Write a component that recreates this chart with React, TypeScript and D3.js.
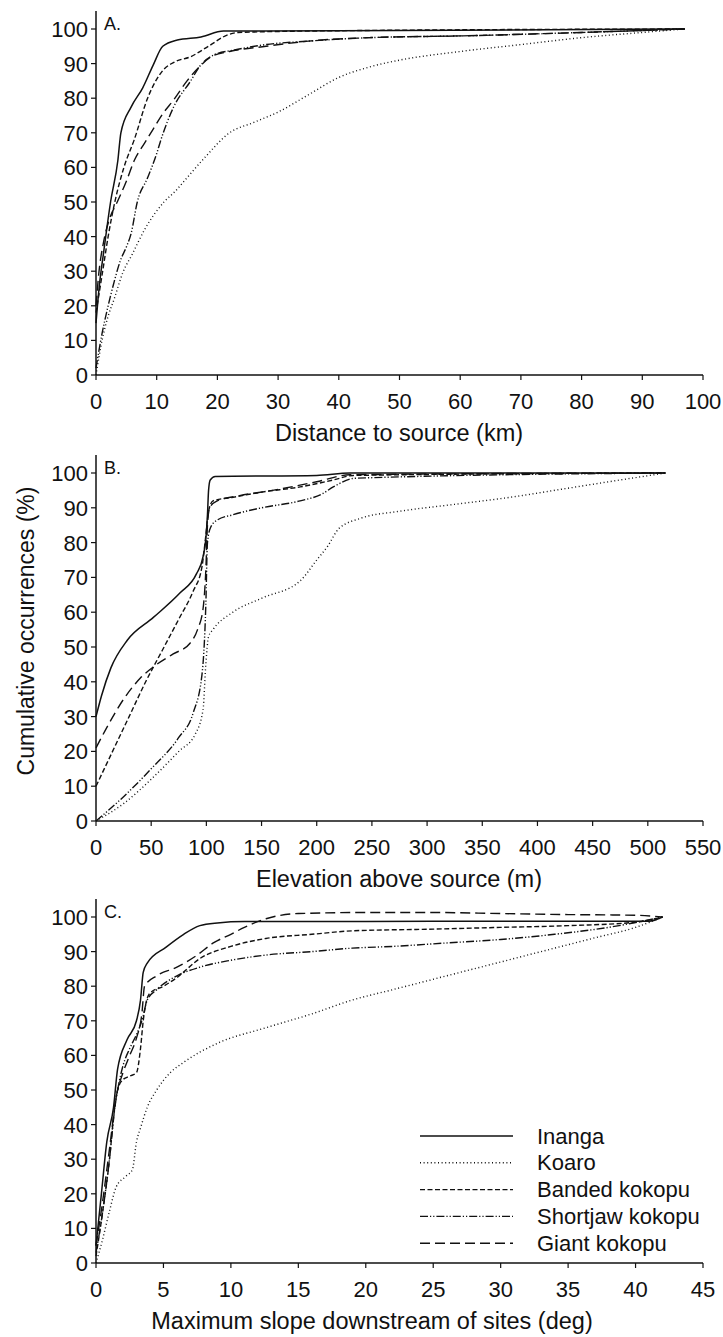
import React, { useEffect, useRef } from 'react';
import * as d3 from 'd3';

// species, in legend order
const speciesNames = ['Inanga', 'Koaro', 'Banded kokopu', 'Shortjaw kokopu', 'Giant kokopu'];

// A. distance to source (km) vs cumulative %
const distInanga = [[0, 15], [0.5, 25], [1.3, 36], [2.4, 50], [3.6, 62], [4.1, 70], [5.8, 77.5], [7.7, 83], [9.4, 89.5], [11, 95], [13.4, 96.8], [17.3, 97.7], [21, 99.4], [40, 99.5], [97, 100]];
const distKoaro = [[0, 0], [1, 10], [2, 17], [3, 22], [4.4, 29.5], [6, 35], [8, 42], [11.2, 50], [13, 53], [15, 57], [18, 63], [22, 70], [26, 73], [30, 76], [35, 81], [40, 86], [45, 89], [50, 91], [60, 93.5], [70, 95.5], [80, 97.5], [90, 99], [97, 100]];
const distBanded = [[0, 18], [1.1, 30], [2, 40], [3.1, 50], [4.6, 60], [6.3, 68], [8.5, 80], [11, 88], [13, 90.5], [15.6, 92], [18.5, 95], [21.7, 98.3], [23.4, 99], [40, 99.5], [97, 100]];
const distShortjaw = [[0, 2], [1, 12], [2, 20], [3, 27], [4, 33], [5, 37], [5.8, 41], [6.8, 50], [8.5, 57], [10, 64], [10.7, 68], [12.8, 77.5], [15.6, 85], [17, 89], [19.4, 92.5], [23, 94], [28, 95.5], [35, 96.5], [45, 97.5], [60, 98], [80, 99], [97, 100]];
const distGiant = [[0, 20], [0.5, 30], [1.2, 38], [2.2, 45], [3.5, 50], [5, 56], [6.3, 62], [8, 67], [9.4, 71], [11, 75.5], [12.8, 79.5], [15, 85], [17, 89], [19, 92], [22, 93.5], [28, 95], [35, 96.5], [45, 97.5], [60, 98], [80, 99], [97, 100]];

// B. elevation above source (m)
const elevInanga = [[0, 30], [5, 36], [13.5, 44], [28.5, 52], [52, 58.5], [76, 65.5], [91, 71], [97, 76], [99.5, 81], [101, 88], [102, 95], [103.5, 98], [108, 99], [200, 99.3], [230, 100], [516, 100]];
const elevKoaro = [[0, 0], [25, 5], [50, 12], [75, 20], [90, 25], [97, 32], [99.5, 45], [102, 53], [106, 55], [124, 60], [150, 64], [185, 69], [200, 75], [210, 79], [220, 84], [240, 87], [275, 89], [325, 91], [375, 93], [425, 95.5], [475, 98], [516, 100]];
const elevBanded = [[0, 10], [15, 20], [30, 30], [45, 40], [60, 49], [75, 58], [88, 66], [96, 73], [99.5, 82], [102, 89], [106, 92], [124, 93], [150, 94.5], [185, 96], [215, 98], [233, 99.3], [516, 100]];
const elevShortjaw = [[0, 0], [25, 7], [50, 15], [75, 24], [88, 31], [96, 42], [99.5, 62], [101, 80], [104, 84.5], [110, 86.5], [124, 88], [150, 90], [185, 92], [205, 94], [215, 96], [235, 98.5], [516, 100]];
const elevGiant = [[0, 21], [10, 27], [25, 35], [40, 41], [55, 45], [70, 48], [85, 51], [92, 55], [97, 61], [99.5, 72], [101, 85], [103, 90], [110, 92], [130, 93.5], [160, 95], [200, 97.5], [230, 99.5], [516, 100]];

// C. maximum slope downstream of sites (deg)
const slopeInanga = [[0, 5], [0.4, 20], [0.8, 35], [1.3, 45], [1.6, 56], [2.3, 64.5], [3, 70], [3.3, 76], [3.5, 84], [3.8, 86.7], [5.2, 91.3], [6.5, 95], [7.7, 97.5], [9, 98.3], [11, 98.7], [20, 98.7], [30, 98.8], [41, 98.8], [42, 100]];
const slopeKoaro = [[0, 0], [0.5, 7], [1, 15], [1.5, 22], [2.2, 25], [2.7, 27], [3, 35], [3.3, 39], [3.8, 45], [4.5, 50], [5.5, 55], [6.5, 58], [9, 63.5], [12.6, 68], [16, 72], [19, 76], [22, 79], [25, 82], [28, 85], [31, 88], [34, 91], [37, 94], [40, 97], [42, 100]];
const slopeBanded = [[0, 2], [0.5, 15], [1, 30], [1.3, 42], [1.6, 50], [2, 53], [2.5, 54], [3, 55], [3.3, 62], [3.5, 70], [3.7, 75], [4, 78], [5, 80], [6, 82.5], [7.7, 88], [10, 91.5], [12.6, 93.8], [16, 95], [19, 96], [25, 96.5], [30, 97], [35, 97.5], [40, 98.5], [42, 100]];
const slopeShortjaw = [[0, 3], [0.5, 15], [1, 30], [1.4, 45], [1.7, 52], [2, 57], [2.5, 62], [3, 66], [3.4, 70], [3.8, 76], [4.5, 79], [6, 83], [7.7, 85.5], [10, 87.5], [12.6, 89], [16, 90], [19, 91], [22, 91.5], [26, 92.5], [30, 93.5], [34, 95], [38, 97], [42, 100]];
const slopeGiant = [[0, 5], [0.5, 18], [1, 33], [1.5, 48], [2, 55], [2.5, 60], [3, 65], [3.4, 72], [3.6, 80], [4.5, 83], [6, 85.5], [7.5, 89], [8.7, 92.5], [10, 95], [11, 97], [12.6, 99.5], [15, 101], [20, 101.3], [25, 101.3], [30, 101], [35, 100.7], [40, 100.5], [42, 100]];

const yTicks = [0, 10, 20, 30, 40, 50, 60, 70, 80, 90, 100];
const distTicks = [0, 10, 20, 30, 40, 50, 60, 70, 80, 90, 100];
const elevTicks = [0, 50, 100, 150, 200, 250, 300, 350, 400, 450, 500, 550];
const slopeTicks = [0, 5, 10, 15, 20, 25, 30, 35, 40, 45];

const dashes = [null, '1,2.6', '5,2.5', '8,2,1.2,2,1.2,2', '10,5'];
const FONT = '"Liberation Sans", Arial, Helvetica, sans-serif';

const panels = [
  { letter: 'A.', title: 'Distance to source (km)', titleX: 399, ticks: distTicks, xMax: 100, top: 29, bottom: 375,
    series: [distInanga, distKoaro, distBanded, distShortjaw, distGiant] },
  { letter: 'B.', title: 'Elevation above source (m)', titleX: 399, ticks: elevTicks, xMax: 550, top: 473, bottom: 821,
    series: [elevInanga, elevKoaro, elevBanded, elevShortjaw, elevGiant] },
  { letter: 'C.', title: 'Maximum slope downstream of sites (deg)', titleX: 372, ticks: slopeTicks, xMax: 45, top: 917, bottom: 1263,
    series: [slopeInanga, slopeKoaro, slopeBanded, slopeShortjaw, slopeGiant] },
];

const App = () => {
  const svgRef = useRef<SVGSVGElement>(null);

  useEffect(() => {
    const svg = d3.select(svgRef.current);
    svg.selectAll('*').remove();
    const left = 96, right = 703;

    panels.forEach(p => {
      const x = d3.scaleLinear().domain([0, p.xMax]).range([left, right]);
      const y = d3.scaleLinear().domain([0, 100]).range([p.bottom, p.top]);
      const g = svg.append('g');

      const line = d3.line<number[]>().x(d => x(d[0])).y(d => y(d[1])).curve(d3.curveMonotoneX);
      p.series.forEach((s, i) => {
        g.append('path').datum(s).attr('d', line)
          .attr('fill', 'none').attr('stroke', '#111')
          .attr('stroke-width', i === 0 ? 1.5 : 1.4)
          .attr('stroke-dasharray', dashes[i]);
      });

      // axes
      g.append('line').attr('x1', left).attr('x2', left).attr('y1', p.bottom).attr('y2', y(105.2))
        .attr('stroke', '#111').attr('stroke-width', 1.5);
      g.append('line').attr('x1', left).attr('x2', right).attr('y1', p.bottom).attr('y2', p.bottom)
        .attr('stroke', '#111').attr('stroke-width', 1.5);

      yTicks.forEach(t => {
        g.append('line').attr('x1', left - 5).attr('x2', left).attr('y1', y(t)).attr('y2', y(t))
          .attr('stroke', '#111').attr('stroke-width', 1.2);
        g.append('text').attr('x', 88).attr('y', y(t)).attr('dy', '0.36em')
          .attr('text-anchor', 'end').attr('font-size', 22).attr('font-family', FONT).attr('fill', '#111')
          .text(t);
      });
      p.ticks.forEach(t => {
        g.append('line').attr('x1', x(t)).attr('x2', x(t)).attr('y1', p.bottom).attr('y2', p.bottom + 5)
          .attr('stroke', '#111').attr('stroke-width', 1.2);
        g.append('text').attr('x', x(t)).attr('y', p.bottom + 34)
          .attr('text-anchor', 'middle').attr('font-size', 22).attr('font-family', FONT).attr('fill', '#111')
          .text(t);
      });

      g.append('text').attr('x', p.titleX).attr('y', p.bottom + 66)
        .attr('text-anchor', 'middle').attr('font-size', 23.5).attr('font-family', FONT).attr('fill', '#111')
        .text(p.title);
      g.append('text').attr('x', 104).attr('y', p.top + 1)
        .attr('font-size', 18).attr('font-family', FONT).attr('fill', '#111')
        .text(p.letter);
    });

    svg.append('text').attr('transform', 'translate(34,631) rotate(-90)')
      .attr('text-anchor', 'middle').attr('font-size', 23).attr('font-family', FONT).attr('fill', '#111')
      .text('Cumulative occurrences (%)');

    // legend
    const lg = svg.append('g');
    speciesNames.forEach((name, i) => {
      const ly = 1136 + i * 26.8;
      lg.append('line').attr('x1', 420).attr('x2', 513).attr('y1', ly).attr('y2', ly)
        .attr('stroke', '#111').attr('stroke-width', 1.4).attr('stroke-dasharray', dashes[i]);
      lg.append('text').attr('x', 537).attr('y', ly + 7.5)
        .attr('font-size', 22).attr('font-family', FONT).attr('fill', '#111')
        .text(name);
    });
  }, []);

  return (
    <svg ref={svgRef} width={723} height={1337}
      style={{ position: 'absolute', left: 0, top: 0, background: '#fff' }} />
  );
};

export default App;
